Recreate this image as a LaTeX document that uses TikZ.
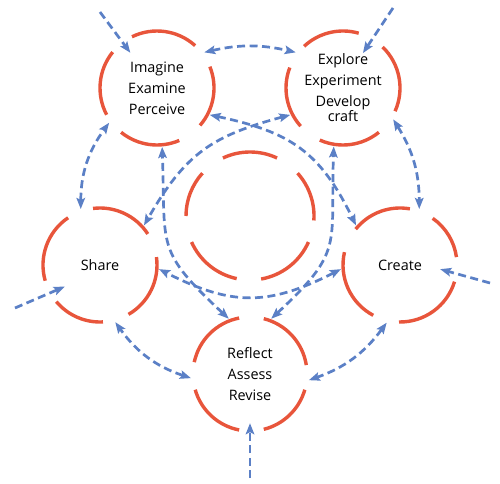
\documentclass[tikz,border=0pt]{standalone}
\usepackage{fontspec}
\setmainfont{Open Sans}
\usetikzlibrary{arrows.meta}
\definecolor{ringred}{HTML}{E8553B}
\definecolor{flowblue}{HTML}{5B80C6}

\begin{document}
\begin{tikzpicture}[
  x=1pt,
  y=1pt,
  stage/.style={circle,minimum size=118pt,inner sep=0pt,align=center,
    text=black,font=\fontsize{14.4}{21}\selectfont},
  ring/.style={draw=ringred,line width=3.4pt},
  flow/.style={draw=flowblue,line width=2.7pt,dash pattern=on 8pt off 4.5pt,
    >={Stealth[length=11pt,width=8.5pt,inset=2pt]}}
]
  \path[use as bounding box,fill=white] (0,0) rectangle (500,483);

  % Stage circles on a regular pentagon around the hub.
  \coordinate (hub) at (250,267);
  \node[stage] (imagine) at (157,395) {Imagine\\Examine\\Perceive};
  \node[stage] (explore) at (343,395) {Explore\\Experiment\\Develop\\[-6pt]craft};
  \node[stage] (create)  at (400,218) {Create};
  \node[stage] (reflect) at (250,109) {Reflect\\Assess\\Revise};
  \node[stage] (share)   at (100,218) {Share};

  % Broken red rings: each stage has four arcs, the hub has five.
  \foreach \a/\b in {48/116,141/208,231/293,319/382}
    \draw[ring] ([shift={(\a:57)}]imagine.center) arc[start angle=\a,end angle=\b,radius=57];
  \foreach \a/\b in {74/133,159/222,246/309,336/406}
    \draw[ring] ([shift={(\a:57)}]explore.center) arc[start angle=\a,end angle=\b,radius=57];
  \foreach \a/\b in {8/55,80/141,167/242,269/343}
    \draw[ring] ([shift={(\a:57)}]create.center) arc[start angle=\a,end angle=\b,radius=57];
  \foreach \a/\b in {9/76,101/168,196/259,284/344}
    \draw[ring] ([shift={(\a:57)}]reflect.center) arc[start angle=\a,end angle=\b,radius=57];
  \foreach \a/\b in {33/97,124/196,220/273,300/368}
    \draw[ring] ([shift={(\a:57)}]share.center) arc[start angle=\a,end angle=\b,radius=57];
  \foreach \a/\b in {65/115,138/180,204/258,280/336,356/402}
    \draw[ring] ([shift={(\a:64)}]hub) arc[start angle=\a,end angle=\b,radius=64];

  % Loose ends of the incoming arrows.
  \coordinate (imagineIn) at (100,471);
  \coordinate (exploreIn) at (393,475);
  \coordinate (createIn)  at (490,200);
  \coordinate (reflectIn) at (250,5);
  \coordinate (shareIn)   at (15,175);

  % Incoming arrows reach into the gaps.
  \draw[flow,->,shorten >=-15pt] (imagineIn) -- (imagine.127);
  \draw[flow,->,shorten >=-19pt] (exploreIn) -- (explore.59);
  \draw[flow,->,shorten >=-19pt] (createIn) -- (create.-9);
  \draw[flow,->,shorten >=-10pt] (reflectIn) -- (reflect.-90);
  \draw[flow,->,shorten >=-18pt] (shareIn) -- (share.209);

  % Outer ring between neighbouring stages.
  \draw[flow,<->] (imagine.37) to[bend left=13] (explore.143);
  \draw[flow,<->] (explore.-32) to[bend left=16] (create.71);
  \draw[flow,<->] (create.257) to[bend left=17] (reflect.-6);
  \draw[flow,<->] (reflect.184) to[bend left=18] (share.285);
  \draw[flow,<->] (share.109) to[bend left=18] (imagine.216);

  % Inner arcs round the hub, one per diagonal.
  \draw[flow,<->] (imagine.-27) to[out=-12,in=116,looseness=1.15] (create.138);
  \draw[flow,<->] (explore.207) to[out=195,in=60,looseness=1.15] (share.42);
  \draw[flow,<->] (reflect.111) to[out=137,in=-88,looseness=1.4] (imagine.275);
  \draw[flow,<->] (reflect.69) to[out=43,in=-92,looseness=1.4] (explore.261);
  \draw[flow,<->] (create.184) to[out=207,in=-27,looseness=1.15] (share.-4);
\end{tikzpicture}
\end{document}
